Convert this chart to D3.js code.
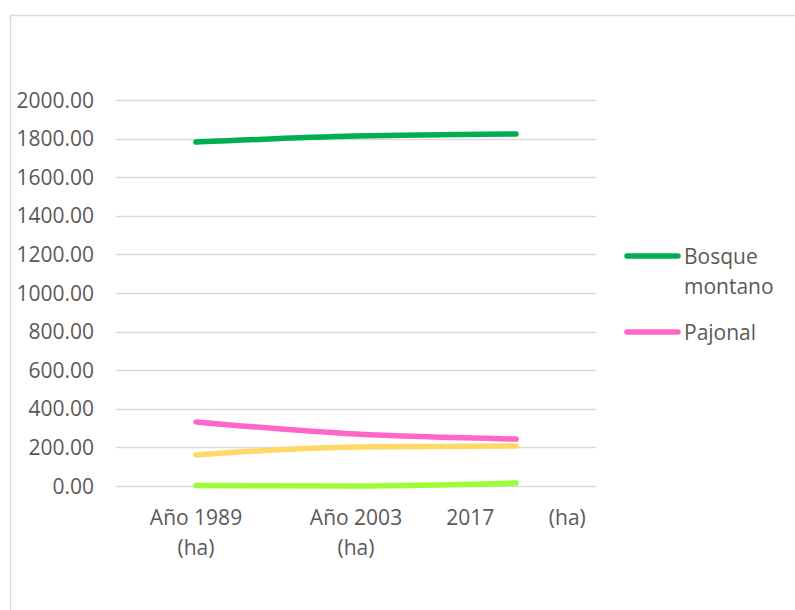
<!DOCTYPE html>
<html>
<head>
<meta charset="utf-8">
<script src="https://cdn.jsdelivr.net/npm/d3@7"></script>
<style>
  body { margin: 0; background: #ffffff; }
  svg { font-family: "Open Sans", sans-serif; }
</style>
</head>
<body>
<div id="chart"></div>
<script>
/* Data */
var categories = ["Año 1989 (ha)", "Año 2003 (ha)", "2017 (ha)"];
var categoryLines = [["Año 1989", "(ha)"], ["Año 2003", "(ha)"], ["2017          (ha)"]];
var bosqueMontano = [1782, 1813, 1824];
var pajonal = [332, 269, 243];
var serieAmarilla = [161, 202, 207];
var serieVerdeClaro = [2, 0, 15];
var yTicks = [0, 200, 400, 600, 800, 1000, 1200, 1400, 1600, 1800, 2000];

var series = [
    {name: "Serie amarilla", values: serieAmarilla, color: "#ffd966"},
    {name: "Serie verde claro", values: serieVerdeClaro, color: "#99ff33"},
    {name: "Pajonal", values: pajonal, color: "#ff66cc"},
    {name: "Bosque montano", values: bosqueMontano, color: "#00b050"}
];

var width = 795,
    height = 610;
var plot = {left: 116, right: 596, top: 100, bottom: 486};
var fontSize = 21;

var svg = d3.select("#chart").append("svg")
            .attr("width", width)
            .attr("height", height);

// chart area border
svg.append("rect")
    .attr("x", 10.5)
    .attr("y", 15.5)
    .attr("width", 800)
    .attr("height", 620)
    .attr("fill", "#ffffff")
    .attr("stroke", "#d9d9d9")
    .attr("stroke-width", 1.5);

var xScale = d3.scaleBand()
        .domain(categories)
        .range([plot.left, plot.right]);
var yScale = d3.scaleLinear()
        .domain([0, 2000])
        .range([plot.bottom, plot.top]);

// gridlines
svg.append("g").selectAll("line").data(yTicks)
    .enter()
    .append("line")
    .attr("x1", plot.left)
    .attr("x2", plot.right)
    .attr("y1", function(d) { return Math.round(yScale(d)) + 0.5; })
    .attr("y2", function(d) { return Math.round(yScale(d)) + 0.5; })
    .attr("stroke", "#d9d9d9")
    .attr("stroke-width", 1.5);

// y tick labels
svg.append("g").selectAll("text").data(yTicks)
    .enter()
    .append("text")
    .attr("x", 94)
    .attr("y", function(d) { return yScale(d); })
    .attr("dy", "0.36em")
    .attr("text-anchor", "end")
    .attr("font-size", fontSize)
    .attr("fill", "#595959")
    .text(function(d) { return d3.format(".2f")(d); });

// x tick labels
var xLabels = svg.append("g").selectAll("text").data(categories)
    .enter()
    .append("text")
    .attr("x", function(d) { return xScale(d) + xScale.bandwidth() / 2; })
    .attr("y", 525)
    .attr("text-anchor", "middle")
    .attr("font-size", fontSize)
    .attr("fill", "#595959")
    .style("white-space", "pre");
xLabels.each(function(d, i) {
    var t = d3.select(this);
    categoryLines[i].forEach(function(line, j) {
        t.append("tspan")
            .attr("x", xScale(d) + xScale.bandwidth() / 2)
            .attr("dy", j === 0 ? 0 : 30)
            .text(line);
    });
});

// lines
var line = d3.line()
        .x(function(d, i) { return xScale(categories[i]) + xScale.bandwidth() / 2; })
        .y(function(d) { return yScale(d); })
        .curve(d3.curveMonotoneX);

svg.append("g").selectAll("path").data(series)
    .enter()
    .append("path")
    .attr("d", function(d) { return line(d.values); })
    .attr("fill", "none")
    .attr("stroke", function(d) { return d.color; })
    .attr("stroke-width", 5.5)
    .attr("stroke-linecap", "round")
    .attr("stroke-linejoin", "round");

// legend
var legendItems = [
    {name: ["Bosque", "montano"], color: "#00b050", y: 256},
    {name: ["Pajonal"], color: "#ff66cc", y: 332}
];
var legend = svg.append("g");
legendItems.forEach(function(item) {
    legend.append("line")
        .attr("x1", 627)
        .attr("x2", 678)
        .attr("y1", item.y)
        .attr("y2", item.y)
        .attr("stroke", item.color)
        .attr("stroke-width", 5.5)
        .attr("stroke-linecap", "round");
    var t = legend.append("text")
        .attr("x", 684)
        .attr("y", item.y)
        .attr("font-size", fontSize)
        .attr("fill", "#595959");
    item.name.forEach(function(n, j) {
        t.append("tspan")
            .attr("x", 684)
            .attr("dy", j === 0 ? "0.36em" : 30)
            .text(n);
    });
});
</script>
</body>
</html>
